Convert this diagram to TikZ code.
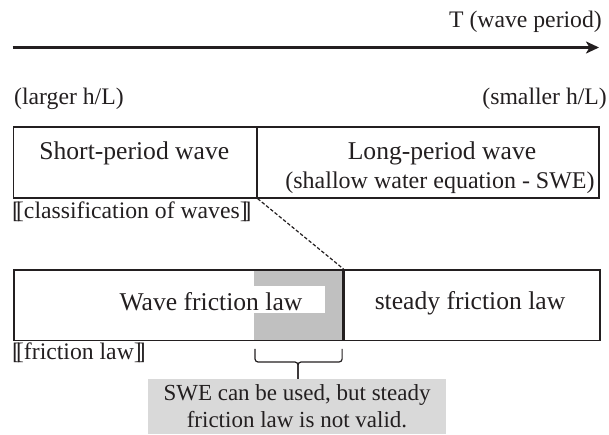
\documentclass[tikz,border=0pt]{standalone}
\usepackage{fontspec}
\setmainfont{Liberation Serif}
\usetikzlibrary{arrows.meta,calc}
\definecolor{ink}{RGB}{35,31,32}
\definecolor{shade}{RGB}{192,192,192}
\definecolor{notefill}{RGB}{217,217,217}
% white double brackets built from two overlapping square brackets
\newcommand\dlb{[\kern-0.17em[}
\newcommand\drb{]\kern-0.17em]}
\begin{document}
\begin{tikzpicture}[x=1pt,y=-1pt,
  lbl/.style={font=\fontsize{23.7}{27}\selectfont, text=ink, inner sep=0pt},
  boxtxt/.style={font=\fontsize{25.6}{30}\selectfont, text=ink, inner sep=0pt},
  cell/.style={draw=ink, line width=1.6pt, inner sep=0pt, anchor=north west},
  patch/.style={inner sep=0pt, anchor=north west}]
\useasboundingbox (0,0) rectangle (609,435);

% period axis
\coordinate (axL) at (12.7,47.5);
\coordinate (axR) at (599,47.5);
\draw[ink, line width=2.4pt, -{Stealth[length=13pt,width=12pt,inset=3.5pt]}] (axL) -- (axR);
\node[lbl, anchor=east] (tlabel) at (602,22) {T (wave period)};
\node[lbl, anchor=west] (larger) at (14,99) {(larger h/L)};
\node[lbl, anchor=east] (smaller) at (607,99) {(smaller h/L)};

% classification of waves
\node[cell, minimum width=243.3pt, minimum height=71pt] (short) at (12.7,126) {};
\node[cell, minimum width=342pt, minimum height=71pt] (long) at (256,126) {};
\node[boxtxt] (shorttxt) at (134.3,153) {Short-period wave};
\node[boxtxt] (longtxt) at (442,153) {Long-period wave};
\node[font=\fontsize{24}{28}\selectfont, text=ink, inner sep=0pt] (swe) at (440,183) {(shallow water equation - SWE)};
\node[lbl, anchor=west] (cls) at (12,212) {\dlb classification of waves\drb};

% friction law
\node[patch, fill=shade, minimum width=87.7pt, minimum height=70.5pt] (gap) at (254,269) {};
\node[patch, fill=white, minimum width=71pt, minimum height=27pt] (mask) at (254,286) {};
\node[cell, line width=1.8pt, minimum width=329pt, minimum height=70.5pt] (wave) at (12.7,269) {};
\node[cell, line width=1.8pt, minimum width=257.3pt, minimum height=70.5pt] (steady) at (341.7,269) {};
\node[boxtxt] (wavetxt) at (211,302) {Wave friction law};
\node[boxtxt] (steadytxt) at (470,303) {steady friction law};
\draw[ink, line width=3.4pt] (wave.north east) -- (wave.south east);
\node[lbl, anchor=west] (fl) at (12,353) {\dlb friction law\drb};

% link between the two rows
\draw[ink, line width=1.2pt, dash pattern=on 3.5pt off 2pt] (short.south east) -- (wave.north east);

% note and its brace
\node[inner sep=0pt, fill=notefill, minimum width=298pt, minimum height=55pt, align=center,
      font=\fontsize{23}{27}\selectfont, text=ink] (note) at (297,406.5)
      {SWE can be used, but steady\\friction law is not valid.};
\coordinate (bl) at ($(gap.south west)+(1,9)$);
\coordinate (br) at ($(gap.south east)+(0,9)$);
\coordinate (bm) at (298,362);
\draw[ink, line width=1.2pt, rounded corners=3pt] (bl) |- (bm) -- (bm |- note.north);
\draw[ink, line width=1.2pt, rounded corners=3pt] (br) |- (bm) -- (bm |- note.north);
\end{tikzpicture}
\end{document}
